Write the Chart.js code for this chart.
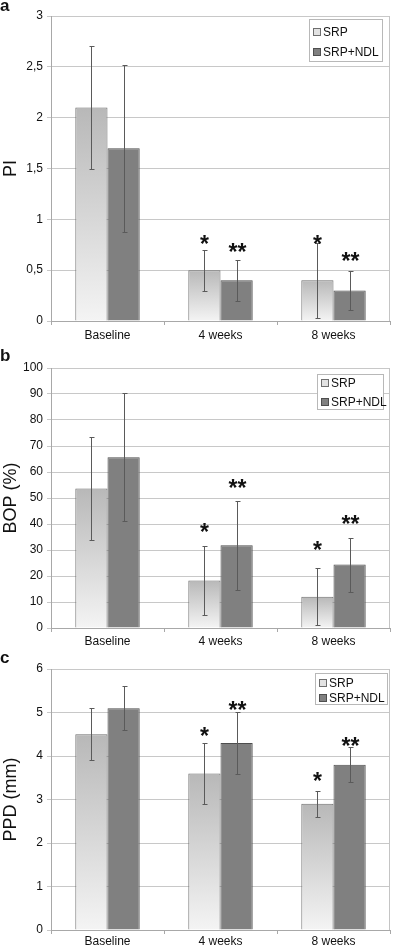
<!DOCTYPE html>
<html>
<head>
<meta charset="utf-8">
<script src="https://cdn.jsdelivr.net/npm/chart.js@4.4.1/dist/chart.umd.min.js"></script>
<style>
  body { margin: 0; background: #fff; }
  canvas { position: absolute; left: 0; display: block; }
</style>
</head>
<body>
<canvas id="chartA" width="397" height="343" style="top:0"></canvas>
<canvas id="chartB" width="397" height="306" style="top:342px"></canvas>
<canvas id="chartC" width="397" height="299" style="top:648px"></canvas>
<script>
// data
const categories = ['Baseline', '4 weeks', '8 weeks'];
const seriesNames = ['SRP', 'SRP+NDL'];

const piTicks = ['0', '0,5', '1', '1,5', '2', '2,5', '3'];
const piSRP = [2.1, 0.5, 0.4];
const piSRPsd = [0.6, 0.2, 0.37];
const piNDL = [1.7, 0.4, 0.3];
const piNDLsd = [0.82, 0.2, 0.19];
const piSRPstars = ['', '*', '*'];
const piSRPstarY = [null, 0.8, 0.8];
const piNDLstars = ['', '**', '**'];
const piNDLstarY = [null, 0.72, 0.63];

const bopTicks = ['0', '10', '20', '30', '40', '50', '60', '70', '80', '90', '100'];
const bopSRP = [53.7, 18.3, 12.0];
const bopSRPsd = [19.8, 13.4, 11.0];
const bopNDL = [65.7, 31.8, 24.4];
const bopNDLsd = [24.6, 17.2, 10.4];
const bopSRPstars = ['', '*', '*'];
const bopSRPstarY = [null, 38.5, 31.5];
const bopNDLstars = ['', '**', '**'];
const bopNDLstarY = [null, 55.4, 41.5];

const ppdTicks = ['0', '1', '2', '3', '4', '5', '6'];
const ppdSRP = [4.5, 3.6, 2.9];
const ppdSRPsd = [0.6, 0.7, 0.3];
const ppdNDL = [5.1, 4.3, 3.8];
const ppdNDLsd = [0.5, 0.72, 0.4];
const ppdSRPstars = ['', '*', '*'];
const ppdSRPstarY = [null, 4.55, 3.52];
const ppdNDLstars = ['', '**', '**'];
const ppdNDLstarY = [null, 5.15, 4.32];

const FONT = "'Liberation Sans', Arial, sans-serif";

function srpFill(ctx) {
  const c = ctx.chart;
  const y = c.scales.y;
  if (!y || ctx.type !== 'data') return '#dcdcdc';
  const top = y.getPixelForValue(ctx.raw);
  const bot = y.getPixelForValue(0);
  if (!Number.isFinite(top) || !Number.isFinite(bot)) return '#dcdcdc';
  const g = c.ctx.createLinearGradient(0, top, 0, bot);
  g.addColorStop(0, '#b8b8b8');
  g.addColorStop(1, '#f4f4f4');
  return g;
}

// error bars, stars, legend box, panel letter, right frame
const decor = {
  id: 'decor',
  afterDatasetsDraw(chart, args, opts) {
    const ctx = chart.ctx;
    const y = chart.scales.y;
    const area = chart.chartArea;
    ctx.save();
    ctx.lineWidth = 1;
    ctx.strokeStyle = '#c4c4c4';
    ctx.beginPath();
    ctx.moveTo(area.right - 0.5, area.top);
    ctx.lineTo(area.right - 0.5, area.bottom);
    ctx.stroke();

    chart.data.datasets.forEach((ds, i) => {
      const meta = chart.getDatasetMeta(i);
      meta.data.forEach((bar, j) => {
        const v = ds.data[j], e = ds.sd[j];
        const x = Math.round(bar.x) + 0.5;
        const top = Math.round(y.getPixelForValue(v + e)) + 0.5;
        const bot = Math.round(y.getPixelForValue(v - e)) + 0.5;
        ctx.strokeStyle = '#5a5a5a';
        ctx.beginPath();
        ctx.moveTo(x, top); ctx.lineTo(x, bot);
        ctx.moveTo(x - 2, top); ctx.lineTo(x + 3, top);
        ctx.moveTo(x - 2, bot); ctx.lineTo(x + 3, bot);
        ctx.stroke();
        if (ds.stars[j]) {
          ctx.fillStyle = '#111';
          ctx.font = 'bold 23px ' + FONT;
          ctx.textAlign = 'center';
          ctx.textBaseline = 'alphabetic';
          ctx.fillText(ds.stars[j], x, y.getPixelForValue(ds.starY[j]) + 12);
        }
      });
    });

    // legend
    const L = opts.legend;
    ctx.fillStyle = '#fff';
    ctx.fillRect(L.x, L.y, L.w, L.h);
    ctx.strokeStyle = '#b8b8b8';
    ctx.strokeRect(L.x + 0.5, L.y + 0.5, L.w, L.h);
    ctx.font = '12px ' + FONT;
    ctx.textAlign = 'left';
    ctx.textBaseline = 'middle';
    chart.data.datasets.forEach((ds, i) => {
      const cy = L.y + L.first + i * L.gap;
      ctx.fillStyle = ds.swatch;
      ctx.fillRect(L.x + 4, cy - 4, 8, 8);
      ctx.strokeStyle = ds.borderColor;
      ctx.strokeRect(L.x + 4.5, cy - 3.5, 7, 7);
      ctx.fillStyle = '#111';
      ctx.fillText(ds.label, L.x + 14, cy + 1);
    });

    ctx.font = 'bold 17px ' + FONT;
    ctx.fillStyle = '#111';
    ctx.textBaseline = 'alphabetic';
    ctx.fillText(opts.letter, 0, opts.letterY);
    ctx.restore();
  }
};

function makePanel(id, p) {
  new Chart(document.getElementById(id), {
    type: 'bar',
    data: {
      labels: categories,
      datasets: [
        {
          label: seriesNames[0], data: p.srp, sd: p.srpSd, stars: p.srpStars, starY: p.srpStarY,
          backgroundColor: srpFill, swatch: '#e2e2e2', borderColor: '#6e6e6e', borderWidth: 1,
          categoryPercentage: 0.57, barPercentage: 1
        },
        {
          label: seriesNames[1], data: p.ndl, sd: p.ndlSd, stars: p.ndlStars, starY: p.ndlStarY,
          backgroundColor: '#808080', swatch: '#808080', borderColor: '#4e4e4e', borderWidth: 1,
          categoryPercentage: 0.57, barPercentage: 1
        }
      ]
    },
    options: {
      responsive: false,
      animation: false,
      layout: { padding: { top: p.top, right: 7, left: 0, bottom: 0 } },
      plugins: {
        legend: { display: false },
        tooltip: { enabled: false },
        decor: { legend: p.legend, letter: p.letter, letterY: p.letterY }
      },
      scales: {
        x: {
          afterFit: s => { s.height = p.xh; },
          grid: { drawOnChartArea: false, tickLength: 4, color: '#a8a8a8' },
          border: { color: '#a8a8a8' },
          ticks: { padding: p.xpad, color: '#111', font: { family: FONT, size: 12 } }
        },
        y: {
          min: 0, max: p.max,
          afterFit: s => { s.width = 51; },
          afterBuildTicks: s => { s.ticks = p.ticks.map((t, k) => ({ value: k * p.step })); },
          grid: { color: '#c8c8c8', tickLength: 4 },
          border: { color: '#a8a8a8' },
          ticks: {
            padding: 4, color: '#111', font: { family: FONT, size: 12 },
            callback: (v, k) => p.ticks[k]
          },
          title: {
            display: true, text: p.title, color: '#111',
            padding: { top: 0, bottom: 0 },
            font: { family: FONT, size: 18 }
          }
        }
      }
    },
    plugins: [decor]
  });
}

makePanel('chartA', {
  srp: piSRP, srpSd: piSRPsd, ndl: piNDL, ndlSd: piNDLsd,
  srpStars: piSRPstars, srpStarY: piSRPstarY, ndlStars: piNDLstars, ndlStarY: piNDLstarY,
  ticks: piTicks, step: 0.5, max: 3, title: 'PI', top: 16, xh: 22, xpad: 3,
  letter: 'a', letterY: 11,
  legend: { x: 309, y: 19, w: 73, h: 42, first: 13, gap: 20 }
});
makePanel('chartB', {
  srp: bopSRP, srpSd: bopSRPsd, ndl: bopNDL, ndlSd: bopNDLsd,
  srpStars: bopSRPstars, srpStarY: bopSRPstarY, ndlStars: bopNDLstars, ndlStarY: bopNDLstarY,
  ticks: bopTicks, step: 10, max: 100, title: 'BOP (%)', top: 26, xh: 20, xpad: 2,
  letter: 'b', letterY: 19,
  legend: { x: 317, y: 32, w: 66, h: 35, first: 9, gap: 19 }
});
makePanel('chartC', {
  srp: ppdSRP, srpSd: ppdSRPsd, ndl: ppdNDL, ndlSd: ppdNDLsd,
  srpStars: ppdSRPstars, srpStarY: ppdSRPstarY, ndlStars: ppdNDLstars, ndlStarY: ppdNDLstarY,
  ticks: ppdTicks, step: 1, max: 6, title: 'PPD (mm)', top: 21, xh: 17, xpad: 0,
  letter: 'c', letterY: 15,
  legend: { x: 315, y: 25, w: 72, h: 31, first: 10, gap: 15 }
});
</script>
</body>
</html>
